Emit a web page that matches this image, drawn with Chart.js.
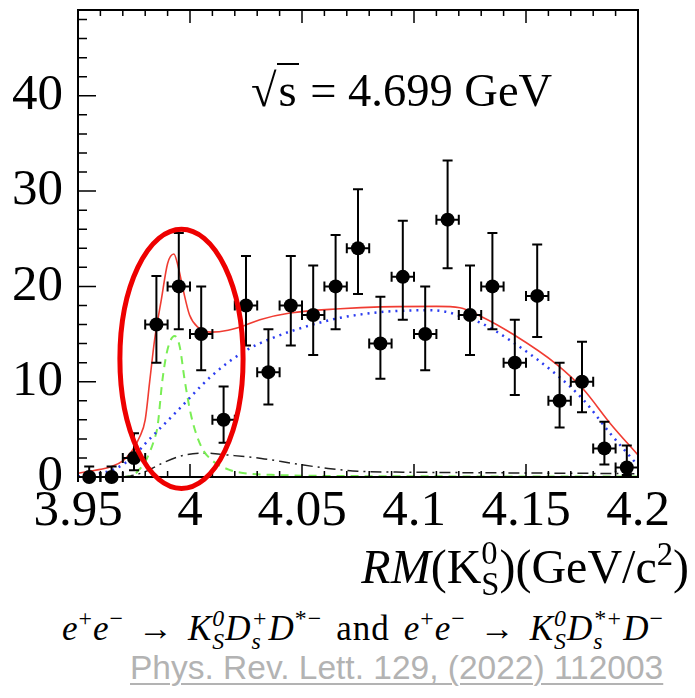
<!DOCTYPE html>
<html>
<head>
<meta charset="utf-8">
<script src="https://cdn.jsdelivr.net/npm/chart.js@4.4.0/dist/chart.umd.min.js"></script>
<style>
    body { margin: 0; background: #fff; }
    #wrap { position: relative; width: 695px; height: 698px; overflow: hidden; font-family: 'Liberation Serif', serif; color: #000; }
    #chart { position: absolute; left: 0; top: 0; }
    .t { position: absolute; white-space: nowrap; line-height: 1.15; }
    .ss { display: inline-block; font-size: 0.68em; line-height: 0.95; vertical-align: -0.38em; text-align: left; }
    .ss span { display: block; }
    sup { font-size: 0.68em; line-height: 0; vertical-align: 0.55em; }
    .rad { border-top: 2px solid #000; padding: 0 2px; }
    .rel { margin: 0 0.4em; }
    .and { margin: 0 0.4em; }
    #caption { letter-spacing: 1px; }
    #ref { color: #b3b3b3; font-family: 'Liberation Sans', Arial, sans-serif; text-decoration: underline; text-decoration-thickness: 2px; text-underline-offset: 4px; }
</style>
</head>
<body>
<div id="wrap">
    <canvas id="chart" width="695" height="545"></canvas>
    <div class="t" id="energy" style="left:251px; top:64px; font-size:46.5px;">&radic;<span class="rad">s</span> = 4.699 GeV</div>
    <div class="t" id="xtitle" style="right:6px; top:538px; font-size:48px;"><i>RM</i>(K<span class="ss"><span>0</span><span>S</span></span>)(GeV/c<sup>2</sup>)</div>
    <div class="t" id="caption" style="left:62px; top:607px; font-size:35px;"><i>e</i><sup>+</sup><i>e</i><sup>&minus;</sup><span class="rel">&rarr;</span><i>K</i><span class="ss"><i><span>0</span><span>S</span></i></span><i>D</i><span class="ss"><i><span>+</span><span>s</span></i></span><i>D</i><sup>*&minus;</sup><span class="and">and</span><i>e</i><sup>+</sup><i>e</i><sup>&minus;</sup><span class="rel">&rarr;</span><i>K</i><span class="ss"><i><span>0</span><span>S</span></i></span><i>D</i><span class="ss"><i><span>*+</span><span>s</span></i></span><i>D</i><sup>&minus;</sup></div>
    <div class="t" id="ref" style="left:130px; top:649px; font-size:33.5px;">Phys. Rev. Lett. 129, (2022) 112003</div>
</div>
<script>
// bins of RM(K_S^0), width 0.01 GeV/c^2
const binCenters = [3.955, 3.965, 3.975, 3.985, 3.995, 4.005, 4.015, 4.025, 4.035, 4.045, 4.055, 4.065, 4.075,
                    4.085, 4.095, 4.105, 4.115, 4.125, 4.135, 4.145, 4.155, 4.165, 4.175, 4.185, 4.195];
const binHalf = 0.005;
const counts  = [0, 0, 2, 16, 20, 15, 6, 18, 11, 18, 17, 20, 24, 14, 21, 15, 27, 17, 20, 12, 19, 8, 10, 3, 1];
const errHigh = [1.1, 1.1, 4.6, 21.1, 25.6, 20.0, 9.5, 23.2, 15.5, 23.2, 22.2, 25.4, 30.2, 18.9, 26.9, 20.0, 33.2, 22.2, 25.6, 16.5, 24.4, 12.0, 14.2, 5.8, 3.3];
const errLow  = [0, 0, 0.7, 12.0, 15.5, 11.2, 3.6, 13.8, 7.6, 13.8, 12.8, 15.5, 19.2, 10.3, 16.5, 11.2, 21.9, 12.8, 15.5, 8.6, 14.7, 5.2, 6.8, 1.3, 0.2];

// fit curves
const totalFit = [[3.95, 0.4], [3.955, 0.6], [3.96, 0.8], [3.965, 1.1], [3.97, 1.7], [3.974, 2.7], [3.9775, 4.2], [3.98, 6.0],
                  [3.982, 10.0], [3.9842, 14.4], [3.9872, 18.6], [3.990, 22.4], [3.9928, 23.4], [3.9946, 22.2], [3.9969, 19.7],
                  [3.9998, 17.0], [4.0036, 15.7], [4.0096, 15.2], [4.017, 15.4], [4.0244, 15.9], [4.0312, 16.5], [4.0446, 17.2],
                  [4.067, 17.65], [4.085, 17.85], [4.11, 17.9], [4.1205, 17.75], [4.1295, 16.9], [4.1444, 14.95], [4.1638, 11.8],
                  [4.1756, 9.2], [4.1875, 5.65], [4.2, 2.3]];
const bkgFit   = [[3.95, 0.05], [3.955, 0.2], [3.96, 0.4], [3.965, 0.7], [3.97, 1.3], [3.975, 2.2], [3.98, 3.5], [3.99, 5.9],
                  [3.9946, 7.0], [4.0096, 10.6], [4.0244, 13.2], [4.037, 14.6], [4.052, 15.8], [4.067, 16.7], [4.085, 17.3],
                  [4.107, 17.5], [4.115, 17.3], [4.1205, 16.9], [4.1295, 16.2], [4.1444, 14.1], [4.1638, 10.7], [4.1756, 8.1],
                  [4.1875, 4.6], [4.2, 1.2]];
const signalFit = [[3.97, 0], [3.975, 0.2], [3.977, 0.7], [3.9798, 1.5], [3.984, 3.9], [3.9855, 5.3], [3.9877, 10.2],
                   [3.990, 13.4], [3.9931, 14.8], [3.9954, 13.7], [3.9976, 10.2], [4.0006, 6.35], [4.005, 3.2], [4.0096, 1.8],
                   [4.017, 0.8], [4.0244, 0.4], [4.04, 0.2], [4.07, 0.1], [4.2, 0.05]];
const otherFit = [[3.97, 0], [3.975, 0.2], [3.98, 0.56], [3.989, 1.6], [3.9976, 2.3], [4.0066, 2.5], [4.017, 2.3], [4.0319, 1.95],
                  [4.0467, 1.4], [4.0616, 0.9], [4.075, 0.6], [4.1, 0.5], [4.15, 0.42], [4.2, 0.35]];

const xTickValues = [3.95, 4.0, 4.05, 4.1, 4.15, 4.2];
const yTickValues = [0, 10, 20, 30, 40];

// red highlight around the peak (data units)
const highlight = { x: 3.9962, y: 12.4, rx: 0.0275, ry: 13.6 };

const toXY = arr => arr.map(p => ({ x: p[0], y: p[1] }));
const fmtTick = v => String(+(+v).toFixed(2));
const tickFont = { family: "'Liberation Serif', 'Times New Roman', serif", size: 51 };

const axisFrame = {
    id: 'axisFrame',
    afterDatasetsDraw(chart) {
        const { ctx, chartArea: a, scales: { x, y } } = chart;
        ctx.save();
        ctx.strokeStyle = '#000';
        ctx.lineWidth = 2;

        // error bars
        binCenters.forEach((c, i) => {
            const px = x.getPixelForValue(c);
            const pl = x.getPixelForValue(c - binHalf);
            const pr = x.getPixelForValue(c + binHalf);
            const py = y.getPixelForValue(counts[i]);
            const pt = y.getPixelForValue(errHigh[i]);
            const pb = y.getPixelForValue(errLow[i]);
            ctx.beginPath();
            ctx.moveTo(px, pt); ctx.lineTo(px, pb);
            ctx.moveTo(px - 5, pt); ctx.lineTo(px + 5, pt);
            ctx.moveTo(px - 5, pb); ctx.lineTo(px + 5, pb);
            ctx.moveTo(pl, py); ctx.lineTo(pr, py);
            ctx.moveTo(pl, py - 5); ctx.lineTo(pl, py + 5);
            ctx.moveTo(pr, py - 5); ctx.lineTo(pr, py + 5);
            ctx.stroke();
        });

        // frame
        ctx.strokeRect(a.left, a.top, a.right - a.left, a.bottom - a.top);

        // inward ticks
        ctx.lineWidth = 1.5;
        ctx.beginPath();
        for (let i = 0; i <= 25; i++) {
            const px = x.getPixelForValue(3.95 + i * 0.01);
            const len = i % 5 === 0 ? 13 : 6;
            ctx.moveTo(px, a.bottom); ctx.lineTo(px, a.bottom - len);
            ctx.moveTo(px, a.top); ctx.lineTo(px, a.top + len);
        }
        for (let v = 0; v <= 48; v += 2) {
            const py = y.getPixelForValue(v);
            const len = v % 10 === 0 ? 18 : 9;
            ctx.moveTo(a.left, py); ctx.lineTo(a.left + len, py);
        }
        ctx.stroke();
        ctx.restore();
    },
    afterDraw(chart) {
        const { ctx, scales: { x, y } } = chart;
        const cx = x.getPixelForValue(highlight.x);
        const cy = y.getPixelForValue(highlight.y);
        const rx = x.getPixelForValue(highlight.x + highlight.rx) - cx;
        const ry = cy - y.getPixelForValue(highlight.y + highlight.ry);
        ctx.save();
        ctx.strokeStyle = '#ee0000';
        ctx.lineWidth = 5;
        ctx.beginPath();
        ctx.ellipse(cx, cy, rx, ry, 0, 0, Math.PI * 2);
        ctx.stroke();
        ctx.restore();
    }
};

const chart = new Chart(document.getElementById('chart'), {
    type: 'scatter',
    data: {
        datasets: [
            {
                label: 'Data',
                data: binCenters.map((c, i) => ({ x: c, y: counts[i] })),
                backgroundColor: '#000',
                borderWidth: 0,
                pointRadius: 7,
                clip: false,
                order: 0
            },
            {
                label: 'Total fit',
                type: 'line',
                data: toXY(totalFit),
                borderColor: '#f03c32',
                borderWidth: 1.6,
                pointRadius: 0,
                cubicInterpolationMode: 'monotone',
                order: 1
            },
            {
                label: 'Background',
                type: 'line',
                data: toXY(bkgFit),
                borderColor: '#2b3cf0',
                borderWidth: 2.5,
                borderDash: [2, 5],
                pointRadius: 0,
                cubicInterpolationMode: 'monotone',
                order: 2
            },
            {
                label: 'Signal',
                type: 'line',
                data: toXY(signalFit),
                borderColor: '#7aee55',
                borderWidth: 2,
                borderDash: [8, 6],
                pointRadius: 0,
                cubicInterpolationMode: 'monotone',
                order: 3
            },
            {
                label: 'Other',
                type: 'line',
                data: toXY(otherFit),
                borderColor: '#222',
                borderWidth: 1.5,
                borderDash: [11, 5, 2, 5],
                pointRadius: 0,
                cubicInterpolationMode: 'monotone',
                order: 4
            }
        ]
    },
    options: {
        responsive: false,
        animation: false,
        devicePixelRatio: 1,
        layout: { padding: { top: 10, right: 57, left: 0, bottom: 0 } },
        plugins: { legend: { display: false }, tooltip: { enabled: false } },
        scales: {
            x: {
                type: 'linear',
                min: 3.95,
                max: 4.2,
                afterBuildTicks: s => { s.ticks = xTickValues.map(v => ({ value: v })); },
                afterFit: s => { s.height = 68; s.paddingLeft = 0; s.paddingRight = 0; },
                ticks: {
                    callback: fmtTick,
                    font: tickFont,
                    color: '#000',
                    padding: 4,
                    maxRotation: 0,
                    autoSkip: false
                },
                grid: { display: false, drawTicks: false },
                border: { display: false }
            },
            y: {
                min: 0,
                max: 49,
                afterBuildTicks: s => { s.ticks = yTickValues.map(v => ({ value: v })); },
                afterFit: s => { s.width = 78; s.paddingTop = 0; s.paddingBottom = 0; },
                ticks: {
                    callback: fmtTick,
                    font: tickFont,
                    color: '#000',
                    padding: 15
                },
                grid: { display: false, drawTicks: false },
                border: { display: false }
            }
        }
    },
    plugins: [axisFrame]
});

// the serif face may arrive after the first paint of the canvas
const redraw = () => chart.update('none');
document.fonts.load("51px 'Liberation Serif'").then(redraw);
document.fonts.ready.then(redraw);
[100, 300, 600].forEach(t => setTimeout(redraw, t));
</script>
</body>
</html>
